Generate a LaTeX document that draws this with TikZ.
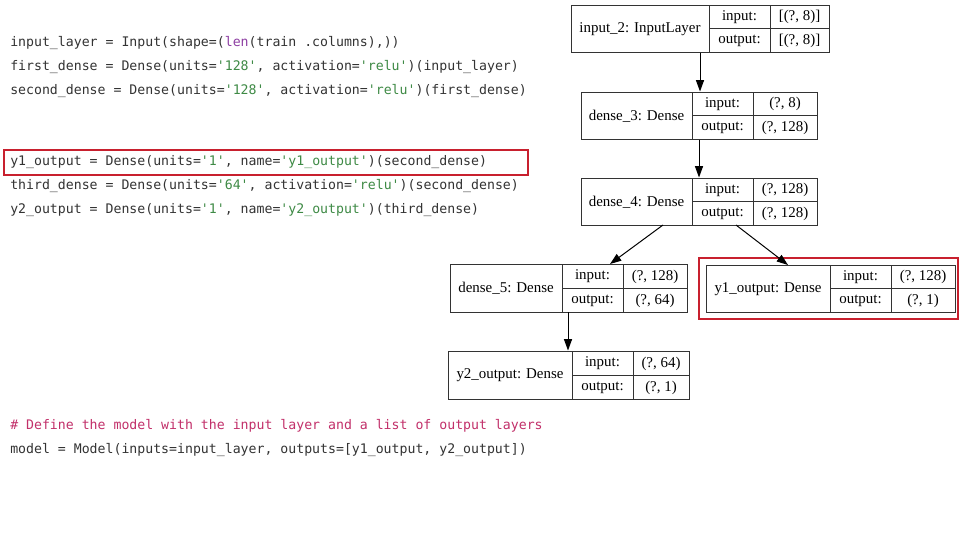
\documentclass[tikz,border=0pt]{standalone}
\usepackage{fontspec}
\setmainfont{Liberation Serif}
\newfontfamily\codefont{DejaVu Sans Mono}
\usetikzlibrary{arrows.meta,fit}
\definecolor{codegray}{HTML}{333333}
\definecolor{strgreen}{HTML}{3E8A45}
\definecolor{kwpurple}{HTML}{8E3FA3}
\definecolor{cmtpink}{HTML}{C2306A}
\definecolor{hired}{HTML}{C8202E}
\definecolor{boxline}{HTML}{333333}
\newcommand\qq{\char39\relax}
\newcommand\strg[1]{\textcolor{strgreen}{\qq#1\qq}}
\begin{document}
\begin{tikzpicture}[x=0.75pt,y=-0.75pt,
  box/.style={draw=boxline, line width=0.75pt, inner sep=0pt},
  cellline/.style={draw=boxline, line width=0.75pt},
  lbl/.style={font=\fontsize{11.2}{13}\selectfont, text=black, inner sep=0pt},
  code/.style={font=\codefont\fontsize{9.9}{12}\selectfont, text=codegray, anchor=west, inner sep=0pt},
  arr/.style={draw=black, line width=0.75pt, -{Triangle[length=8.5pt,width=6pt]}},
  hibox/.style={draw=hired, line width=1.5pt, inner sep=0pt}]
\useasboundingbox (0,0) rectangle (960,540);
\fill[white] (0,0) rectangle (960,540);

% code
\node[code] (c1) at (10,43) {input\_layer = Input(shape=(\textcolor{kwpurple}{len}(train .columns),))};
\node[code] (c2) at (10,67) {first\_dense = Dense(units=\strg{128}, activation=\strg{relu})(input\_layer)};
\node[code] (c3) at (10,91) {second\_dense = Dense(units=\strg{128}, activation=\strg{relu})(first\_dense)};
\node[code] (c4) at (10,162) {y1\_output = Dense(units=\strg{1}, name=\strg{y1\_output})(second\_dense)};
\node[code] (c5) at (10,186) {third\_dense = Dense(units=\strg{64}, activation=\strg{relu})(second\_dense)};
\node[code] (c6) at (10,210) {y2\_output = Dense(units=\strg{1}, name=\strg{y2\_output})(third\_dense)};
\node[code, text=cmtpink] (c7) at (10,426) {\# Define the model with the input layer and a list of output layers};
\node[code] (c8) at (10,450) {model = Model(inputs=input\_layer, outputs=[y1\_output, y2\_output])};
\node[hibox, fit={(4,150) (528,175)}] (codehi) {};

% layer boxes
\foreach \n/\xa/\ya/\xb/\yb/\da/\db/\lab/\vi/\vo in {
  {inp/571/5/829/52/709/770/input\_2: InputLayer/[(?, 8)]/[(?, 8)]},
  {d3/581/92/817/139/692/753/dense\_3: Dense/(?, 8)/(?, 128)},
  {d4/581/178/817/225/692/753/dense\_4: Dense/(?, 128)/(?, 128)},
  {d5/450/264/687/312/562/623/dense\_5: Dense/(?, 128)/(?, 64)},
  {y1/706/265/955/312/830/891/y1\_output: Dense/(?, 128)/(?, 1)},
  {y2/448/351/689/399/572/633/y2\_output: Dense/(?, 64)/(?, 1)}}{
  \pgfmathsetmacro\ym{(\ya+\yb)/2}
  \pgfmathsetmacro\yt{(\ya+\ym)/2+0.5}
  \pgfmathsetmacro\yu{(\ym+\yb)/2+0.5}
  \pgfmathsetmacro\xl{(\xa+\da)/2}
  \pgfmathsetmacro\xk{(\da+\db)/2}
  \pgfmathsetmacro\xv{(\db+\xb)/2}
  \node[box, fit={(\xa,\ya) (\xb,\yb)}] (\n) {};
  \draw[cellline] (\da,\ya) -- (\da,\yb) (\db,\ya) -- (\db,\yb) (\da,\ym) -- (\xb,\ym);
  \node[lbl] (\n-l) at (\xl,\ym+0.5) {\lab};
  \node[lbl] (\n-ik) at (\xk,\yt) {input:};
  \node[lbl] (\n-ok) at (\xk,\yu) {output:};
  \node[lbl] (\n-iv) at (\xv,\yt) {\vi};
  \node[lbl] (\n-ov) at (\xv,\yu) {\vo};
}
\node[hibox, fit={(699,258) (958,319)}] (y1hi) {};

% connectors
\draw[arr] (inp.south) -- (inp.south |- d3.north);
\draw[arr] (d3.south) -- (d4.north);
\coordinate (d4a) at (663,225);
\coordinate (d4b) at (736,225);
\coordinate (d5t) at (610,264);
\coordinate (y1t) at (788,265);
\draw[arr] (d4a) -- (d5t);
\draw[arr] (d4b) -- (y1t);
\coordinate (d5b) at (568,312);
\draw[arr] (d5b) -- (d5b |- y2.north);
\end{tikzpicture}
\end{document}
